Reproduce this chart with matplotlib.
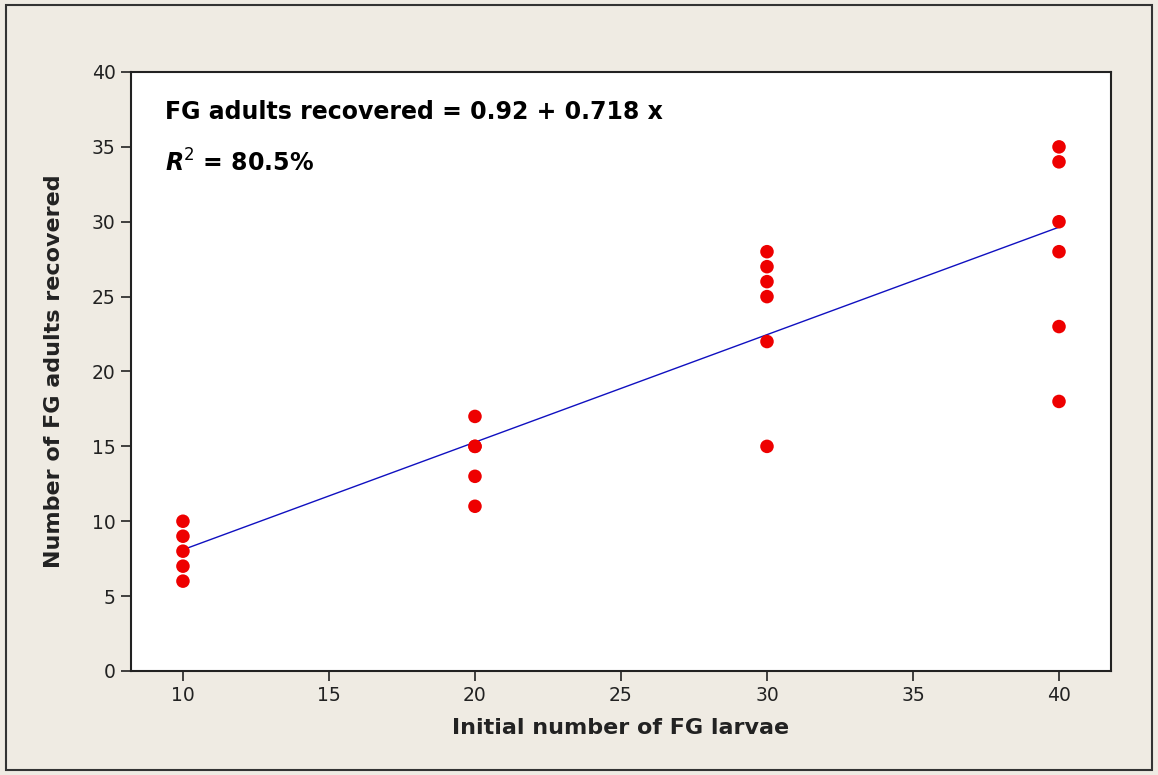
import matplotlib
matplotlib.use("Agg")
import matplotlib.pyplot as plt
import matplotlib.patches as mpatches
import numpy as np

x_larvae = [10, 10, 10, 10, 10,
            20, 20, 20, 20, 20,
            30, 30, 30, 30, 30, 30,
            40, 40, 40, 40, 40, 40]
y_adults = [6, 7, 8, 9, 10,
            11, 13, 15, 15, 17,
            15, 22, 25, 26, 27, 28,
            18, 23, 28, 30, 34, 35]
intercept = 0.92
slope = 0.718
x_ticks = [10, 15, 20, 25, 30, 35, 40]
y_ticks = [0, 5, 10, 15, 20, 25, 30, 35, 40]

bg = "#EFEBE3"
fig = plt.figure(figsize=(11.58, 7.75), dpi=100, facecolor=bg)
ax = fig.add_axes([0.1131, 0.1342, 0.8463, 0.7729])
ax.set_facecolor("white")

xl = np.array([min(x_larvae), max(x_larvae)])
ax.plot(xl, intercept + slope * xl, color="#1010C0", lw=1.0, zorder=2)
ax.scatter(x_larvae, y_adults, s=95, color="#EE0000", edgecolors="none", zorder=3)

ax.set_xlim(8.22, 41.78)
ax.set_ylim(0, 40)
ax.set_xticks(x_ticks)
ax.set_yticks(y_ticks)
ax.tick_params(direction="out", length=7, width=1.2, labelsize=13.5, colors="#222222", pad=4)
for s in ax.spines.values():
    s.set_linewidth(1.5)
    s.set_color("#222222")

ax.set_xlabel("Initial number of FG larvae", fontsize=16, fontweight="bold", labelpad=9,
              color="#222222")
ax.set_ylabel("Number of FG adults recovered", fontsize=16, fontweight="bold", labelpad=20,
              color="#222222")

ax.text(0.035, 0.933, "FG adults recovered = 0.92 + 0.718 x", transform=ax.transAxes,
        fontsize=17, fontweight="bold", va="center", ha="left")
ax.text(0.035, 0.848, r"$\boldsymbol{R}^{2}$ = 80.5%", transform=ax.transAxes,
        fontsize=17, fontweight="bold", va="center", ha="left")

fig.patches.append(mpatches.Rectangle((0.005, 0.006), 0.99, 0.988, transform=fig.transFigure,
                                      fill=False, edgecolor="#333333", lw=1.5))

fig.savefig("out.png", dpi=100, facecolor=bg)
